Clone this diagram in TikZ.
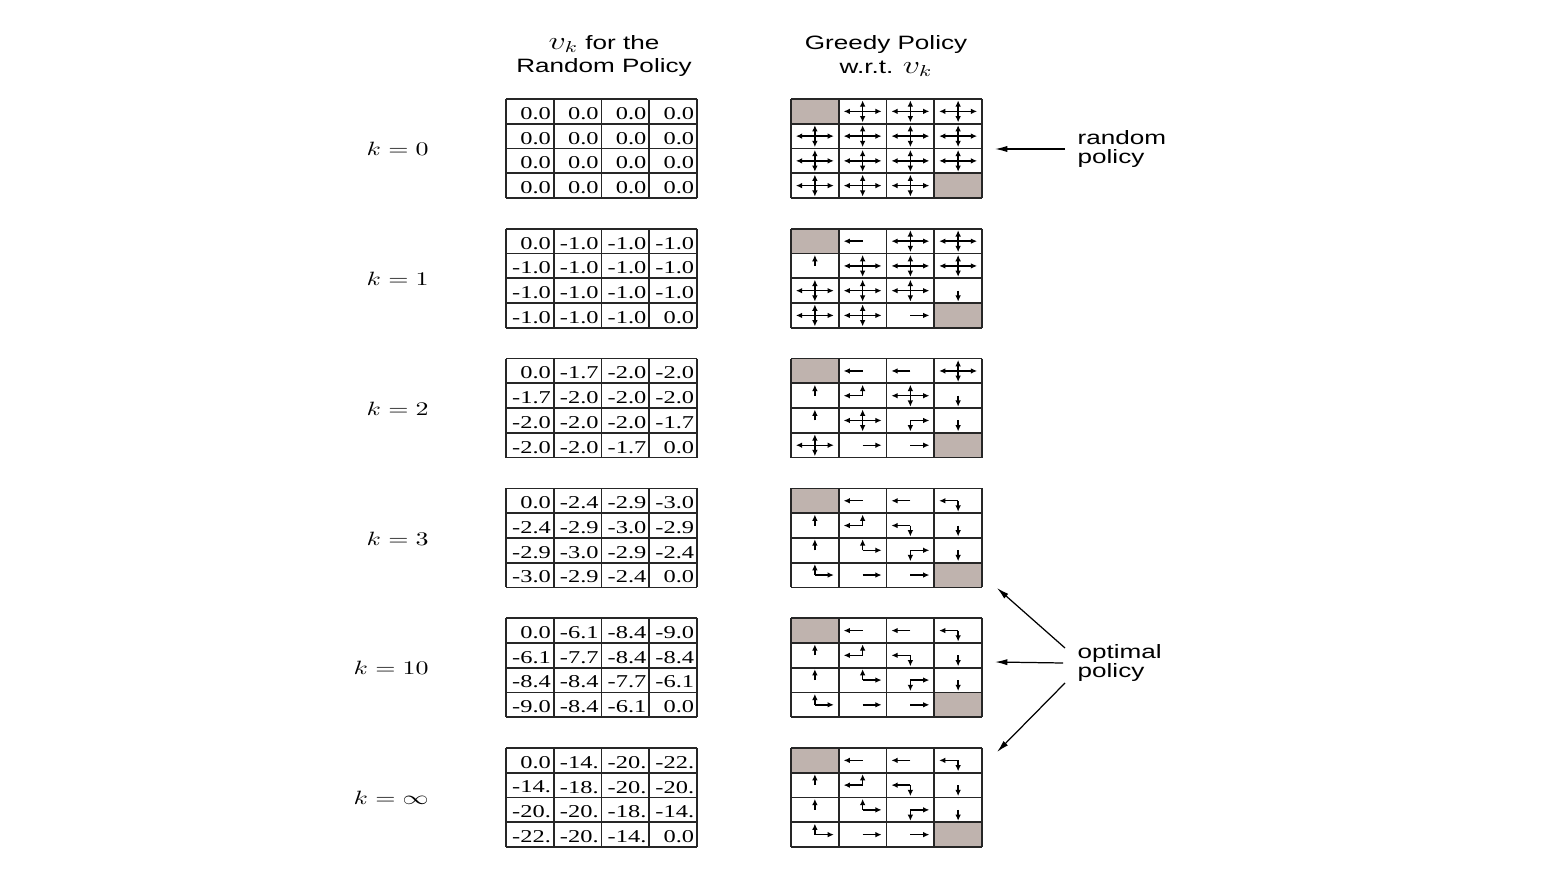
\documentclass[tikz,border=0pt]{standalone}
\usepackage{graphicx}
\usepackage{fontspec}
\setmainfont{Liberation Serif}
\setsansfont{Liberation Sans}
\usetikzlibrary{positioning,arrows.meta}

\definecolor{tcell}{RGB}{191,179,174}
\newcommand{\wtxt}[1]{\scalebox{1.35}[1]{#1}}
\newcommand{\vk}{{\fontsize{13.5}{13.5}\selectfont$v_k$}}
\newcommand{\allfour}{180,90,0,270}

\tikzset{
  head/.style={align=center,font=\sffamily\fontsize{11}{13.6}\selectfont},
  side/.style={align=left,anchor=west,inner xsep=7pt,inner ysep=0pt,font=\sffamily\fontsize{11}{10.8}\selectfont},
  klab/.style={anchor=east,inner sep=0pt,font=\fontsize{10.8}{13}\selectfont},
  cellval/.style={anchor=east,inner sep=0pt,font=\fontsize{10.3}{12}\selectfont},
  gridline/.style={line width=1pt,draw=black!85},
  polarrow/.style={-{Latex[length=3.6pt,width=3.2pt]},line width=0.8pt},
  ptr/.style={-{Latex[length=7pt,width=3.5pt]},line width=0.7pt}
}

\begin{document}
\begin{tikzpicture}[x=0.02cm,y=-0.02cm]
\useasboundingbox (0,0) rectangle (1563,875);

\node[head] (vhead) at (604,56) {\wtxt{\vk{} for the}\\\wtxt{Random Policy}};
\node[head] (ghead) at (886,56) {\wtxt{Greedy Policy}\\\wtxt{w.r.t. \vk}};

\foreach \klab/\vals/\pols [count=\i from 0] in {
  0/{0.0,0.0,0.0,0.0,0.0,0.0,0.0,0.0,0.0,0.0,0.0,0.0,0.0,0.0,0.0,0.0}/{T,\allfour,\allfour,\allfour,\allfour,\allfour,\allfour,\allfour,\allfour,\allfour,\allfour,\allfour,\allfour,\allfour,\allfour,T},
  1/{0.0,-1.0,-1.0,-1.0,-1.0,-1.0,-1.0,-1.0,-1.0,-1.0,-1.0,-1.0,-1.0,-1.0,-1.0,0.0}/{T,180,\allfour,\allfour,90,\allfour,\allfour,\allfour,\allfour,\allfour,\allfour,270,\allfour,\allfour,0,T},
  2/{0.0,-1.7,-2.0,-2.0,-1.7,-2.0,-2.0,-2.0,-2.0,-2.0,-2.0,-1.7,-2.0,-2.0,-1.7,0.0}/{T,180,180,\allfour,90,{180,90},\allfour,270,90,\allfour,{0,270},270,\allfour,0,0,T},
  3/{0.0,-2.4,-2.9,-3.0,-2.4,-2.9,-3.0,-2.9,-2.9,-3.0,-2.9,-2.4,-3.0,-2.9,-2.4,0.0}/{T,180,180,{180,270},90,{180,90},{180,270},270,90,{90,0},{0,270},270,{90,0},0,0,T},
  10/{0.0,-6.1,-8.4,-9.0,-6.1,-7.7,-8.4,-8.4,-8.4,-8.4,-7.7,-6.1,-9.0,-8.4,-6.1,0.0}/{T,180,180,{180,270},90,{180,90},{180,270},270,90,{90,0},{0,270},270,{90,0},0,0,T},
  \infty/{0.0,-14.,-20.,-22.,-14.,-18.,-20.,-20.,-20.,-20.,-18.,-14.,-22.,-20.,-14.,0.0}/{T,180,180,{180,270},90,{180,90},{180,270},270,90,{90,0},{0,270},270,{90,0},0,0,T}}
{
  \pgfmathsetmacro\gtop{99+129.8*\i}
  \node[klab] (k\i) at (429,\gtop+50) {\wtxt{$k = \klab$}};
  % values of v_k
  \foreach \v [count=\j from 0] in \vals {
    \node[cellval] (v\i-\j) at ({506+47.75*(mod(\j,4)+1)-2.5},{\gtop+24.75*(floor(\j/4)+0.5)+2}) {\wtxt{\v}};
  }
  % greedy policy
  \foreach \c [count=\j from 0] in \pols {
    \coordinate (p\i-\j) at ({791+47.75*(mod(\j,4)+0.5)},{\gtop+24.75*(floor(\j/4)+0.5)});
    \if T\c
      \fill[tcell] ({791+47.75*mod(\j,4)},{\gtop+24.75*floor(\j/4)}) rectangle ++(47.75,24.75);
    \else
      \edef\clist{\c}
      \foreach \a in \clist {\draw[polarrow] (p\i-\j) -- ++({19*cos(\a)},{-11*sin(\a)});}
    \fi
  }
  \foreach \n in {0,...,4} {
    \draw[gridline] (506+47.75*\n,\gtop) -- ++(0,99);
    \draw[gridline] (506,\gtop+24.75*\n) -- ++(191,0);
    \draw[gridline] (791+47.75*\n,\gtop) -- ++(0,99);
    \draw[gridline] (791,\gtop+24.75*\n) -- ++(191,0);
  }
}

\node[side] (randlab) at (1065,149) {\wtxt{random}\\\wtxt{policy}};
\coordinate (randtip) at (995,149);
\draw[ptr] (randlab.west) -- (randtip);

\node[side] (optlab) at (1065,663) {\wtxt{optimal}\\\wtxt{policy}};
\coordinate (opttip3) at (997,588);
\coordinate (opttip10) at (995,662);
\coordinate (opttipinf) at (997,752);
\draw[ptr] ([shift={(0,-15)}]optlab.west) -- (opttip3);
\draw[ptr] ([shift={(-2,0)}]optlab.west) -- (opttip10);
\draw[ptr] ([shift={(0,20)}]optlab.west) -- (opttipinf);
\end{tikzpicture}
\end{document}
